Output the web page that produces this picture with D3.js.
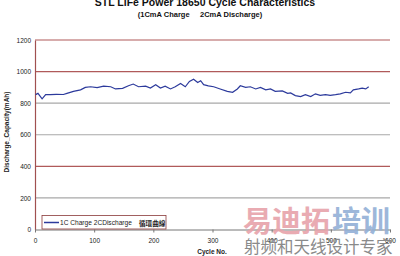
<!DOCTYPE html>
<html>
<head>
<meta charset="utf-8">
<script src="https://cdn.jsdelivr.net/npm/d3@7"></script>
<style>
  body { margin: 0; background: #fff; }
  svg { display: block; font-family: "Liberation Sans", Arial, sans-serif; }
</style>
</head>
<body>
<svg id="chart" width="400" height="256"></svg>
<script>
// cycle number and discharge capacity (mAh)
var cycles = [1, 5, 12, 18, 26, 36, 48, 54, 65, 77, 85, 94, 105, 116, 128, 136, 148, 158, 166, 175,
  187, 195, 204, 212, 220, 229, 237, 246, 254, 261, 268, 275, 280, 285, 293, 302, 313, 325, 334, 342,
  347, 356, 364, 373, 381, 390, 398, 406, 418, 427, 432, 440, 449, 457, 466, 474, 482, 491, 499, 508,
  516, 525, 533, 538, 547, 553, 559, 564];
var capacity = [854, 862, 827, 854, 854, 856, 855, 862, 875, 884, 900, 904, 898, 908, 904, 890, 894, 910, 921, 904,
  908, 896, 917, 896, 908, 890, 904, 925, 904, 938, 952, 931, 942, 917, 910, 904, 890, 875, 869, 890,
  910, 900, 904, 890, 900, 884, 890, 875, 878, 862, 865, 848, 842, 854, 842, 859, 850, 854, 850, 854,
  859, 869, 865, 884, 890, 895, 890, 904];
var yTicks = [0, 200, 400, 600, 800, 1000, 1200];
var xTicks = [0, 100, 200, 300, 400, 500, 600];
var redGrid = [1000, 400, 1200];

var svg = d3.select("#chart");
var plotLeft = 35, plotRight = 390, plotTop = 40, plotBottom = 229.5;

var x = d3.scaleLinear().domain([0, 600]).range([plotLeft, plotRight]);
var y = d3.scaleLinear().domain([0, 1200]).range([plotBottom, plotTop]);

// titles
svg.append("text").attr("x", 205).attr("y", 6).attr("text-anchor", "middle")
  .attr("font-size", 10.5).attr("font-weight", "bold").attr("fill", "#111")
  .text("STL LiFe Power 18650 Cycle Characteristics");
svg.append("text").attr("x", 200).attr("y", 17).attr("text-anchor", "middle")
  .attr("font-size", 7.5).attr("font-weight", "bold").attr("fill", "#111")
  .attr("xml:space", "preserve")
  .text("(1CmA Charge     2CmA Discharge)");

// gridlines
svg.append("g").selectAll("line")
  .data(yTicks.filter(function (d) { return d > 0; }))
  .enter().append("line")
  .attr("x1", plotLeft).attr("x2", plotRight)
  .attr("y1", function (d) { return y(d); })
  .attr("y2", function (d) { return y(d); })
  .attr("stroke", function (d) { return redGrid.indexOf(d) >= 0 ? "#b05a5a" : "#a8a8a8"; })
  .attr("stroke-width", 1.2);

// y axis
var yAxis = svg.append("g")
  .attr("transform", "translate(" + plotLeft + ",0)")
  .call(d3.axisLeft(y).tickValues(yTicks).tickFormat(d3.format("d"))
    .tickSize(0).tickSizeOuter(0).tickPadding(4));
yAxis.select(".domain").attr("stroke", "#a05050").attr("stroke-width", 1.2);
yAxis.selectAll("text").attr("font-size", 6.5).attr("fill", "#222")
  .attr("font-family", "Liberation Sans, Arial, sans-serif");

// x axis
var xAxis = svg.append("g")
  .attr("transform", "translate(0," + plotBottom + ")")
  .call(d3.axisBottom(x).tickValues(xTicks).tickFormat(d3.format("d"))
    .tickSize(3).tickSizeOuter(0).tickPadding(6));
xAxis.select(".domain").attr("stroke", "#777").attr("stroke-width", 1);
xAxis.selectAll(".tick line").attr("stroke", "#777");
xAxis.selectAll("text").attr("font-size", 6.5).attr("fill", "#222")
  .attr("font-family", "Liberation Sans, Arial, sans-serif");

// axis titles
svg.append("text").attr("transform", "translate(9,132) rotate(-90)")
  .attr("text-anchor", "middle").attr("font-size", 6.5).attr("font-weight", "bold").attr("fill", "#222")
  .text("Discharge_Capacity(mAh)");
svg.append("text").attr("x", 212).attr("y", 254).attr("text-anchor", "middle")
  .attr("font-size", 6.5).attr("font-weight", "bold").attr("fill", "#222")
  .text("Cycle No.");

// data line
var pts = cycles.map(function (c, i) { return [c, capacity[i]]; });
svg.append("path").datum(pts)
  .attr("fill", "none").attr("stroke", "#2c3a9c").attr("stroke-width", 1.2)
  .attr("d", d3.line().x(function (d) { return x(d[0]); }).y(function (d) { return y(d[1]); }));

// legend
var lg = svg.append("g").attr("transform", "translate(42,215.5)");
lg.append("rect").attr("width", 124).attr("height", 13.5)
  .attr("fill", "#fff").attr("stroke", "#8a3a3a").attr("stroke-width", 0.8);
lg.append("line").attr("x1", 2).attr("x2", 17).attr("y1", 7).attr("y2", 7)
  .attr("stroke", "#2c3a9c").attr("stroke-width", 1.5);
lg.append("text").attr("x", 18).attr("y", 9.3).attr("font-size", 6.6).attr("fill", "#222")
  .text("1C Charge 2CDischarge");
lg.append("text").attr("x", 97).attr("y", 10).attr("font-size", 6.6).attr("font-weight", "bold").attr("fill", "#222")
  .attr("font-family", "Noto Sans CJK TC").text("循環曲線");

// watermark
svg.append("text").attr("x", 243).attr("y", 232).attr("font-size", 29).attr("font-weight", "bold")
  .attr("font-family", "Noto Sans CJK SC").attr("fill", "#e7a3aa").attr("opacity", 0.9).text("易迪拓");
svg.append("text").attr("x", 332).attr("y", 232).attr("font-size", 29).attr("font-weight", "bold")
  .attr("font-family", "Noto Sans CJK SC").attr("fill", "#93b0d6").attr("opacity", 0.9).text("培训");
svg.append("text").attr("x", 244).attr("y", 253).attr("font-size", 16.5)
  .attr("font-family", "Noto Sans CJK SC").attr("fill", "#8a8a8a").text("射频和天线设计专家");
</script>
</body>
</html>
